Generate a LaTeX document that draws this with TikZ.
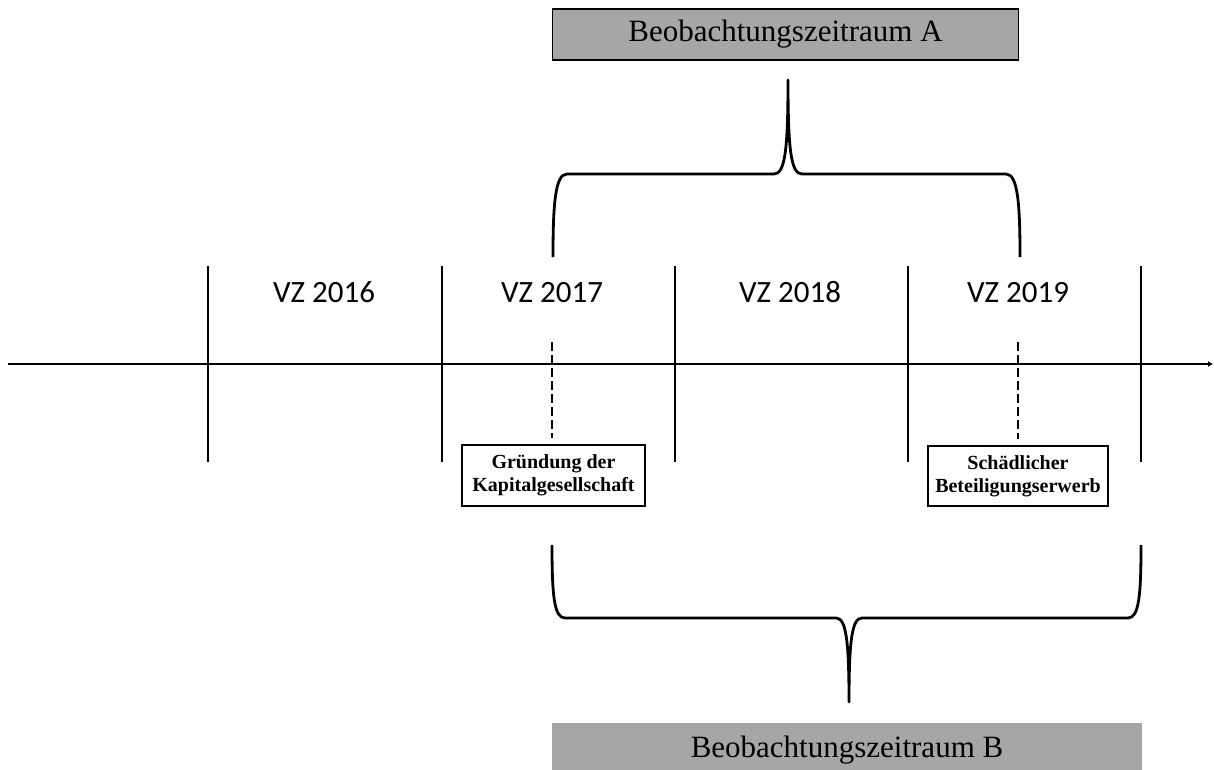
\documentclass[tikz,border=0pt]{standalone}
\usepackage{fontspec}
\setmainfont{Liberation Serif}
\newfontfamily\calib[Numbers=Lining]{Carlito}
\usetikzlibrary{arrows.meta,calc}
\definecolor{boxgray}{RGB}{166,166,166}
\tikzset{
  bigbox/.style={fill=boxgray, inner sep=0pt, font=\fontsize{31}{36}\selectfont},
  evbox/.style={draw=black, line width=1.2pt, fill=white, inner sep=0pt, align=center,
    font=\fontsize{20}{23}\selectfont\bfseries},
  vzlabel/.style={font=\calib\fontsize{31}{36}\selectfont, inner sep=0pt, anchor=base},
  vline/.style={line width=2.2pt},
  axisline/.style={line width=1.8pt, -{Latex[length=5pt,width=6pt]}},
  dline/.style={line width=1.6pt, dash pattern=on 9pt off 4pt},
  brace/.style={line width=2.8pt, line join=round}
}
\begin{document}
\begin{tikzpicture}[x=1pt,y=-1pt]
\useasboundingbox (0,0) rectangle (1214,769);

% top box A
\node[bigbox, draw=black, line width=1.5pt, minimum width=466pt, minimum height=51pt]
  (boxA) at (785.5,34.5) {Beobachtungszeitraum A};

% brace A
\draw[brace] (553,257) .. controls (553,205) and (555,174) .. (567,174)
  -- (774,174) .. controls (785,174) and (788,150) .. (788,80)
  .. controls (788,150) and (791,174) .. (802,174)
  -- (1006,174) .. controls (1018,174) and (1020,205) .. (1020,257);

% axis
\coordinate (axL) at (8,364);
\coordinate (axR) at (1213,364);
\draw[axisline] (axL) -- (axR);

% vertical year separators
\foreach \xx in {208,442,675,908,1141}{
  \draw[vline] (\xx,266) -- (\xx,462);
}

% labels
\node[vzlabel] (vz16) at (324,302) {VZ 2016};
\node[vzlabel] (vz17) at (552,302) {VZ 2017};
\node[vzlabel] (vz18) at (790,302) {VZ 2018};
\node[vzlabel] (vz19) at (1018,302) {VZ 2019};

% event boxes
\node[evbox, minimum width=183pt, minimum height=61pt] (grd) at (553.5,475.5)
  {Gründung der\\Kapitalgesellschaft};
\node[evbox, minimum width=180pt, minimum height=60pt] (sch) at (1018,476)
  {Schädlicher\\Beteiligungserwerb};

% dashed markers
\coordinate (d1) at (552,342);
\coordinate (d2) at (1018,342);
\draw[dline, shorten >=6pt] (d1) -- (d1 |- grd.north);
\draw[dline, shorten >=6pt] (d2) -- (d2 |- sch.north);

% brace B
\draw[brace] (552,545) .. controls (552,595) and (554,618) .. (565,618)
  -- (836,618) .. controls (846,618) and (849,640) .. (849,702)
  .. controls (849,640) and (852,618) .. (862,618)
  -- (1128,618) .. controls (1139,618) and (1141,595) .. (1141,545);

% bottom box B
\node[bigbox, minimum width=590pt, minimum height=54pt, anchor=north]
  (boxB) at (847,723) {\raisebox{5pt}{Beobachtungszeitraum B}};
\end{tikzpicture}
\end{document}
